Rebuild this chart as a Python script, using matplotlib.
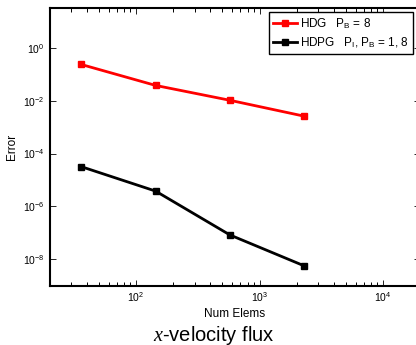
import numpy as np
import matplotlib
matplotlib.use('Agg')
import matplotlib.pyplot as plt
from matplotlib.ticker import NullFormatter, NullLocator

plt.rcParams['font.family'] = ['Liberation Sans', 'DejaVu Sans']
plt.rcParams['mathtext.fontset'] = 'custom'
plt.rcParams['mathtext.rm'] = 'Liberation Sans'
plt.rcParams['mathtext.it'] = 'Liberation Serif:italic'

# data
num_elems = [36, 144, 576, 2304]
err_hdg = [0.236, 0.038, 0.0104, 0.0026]
err_hdpg = [3.2e-5, 3.8e-6, 8.3e-8, 5.6e-9]
labels = ['HDG   P$_\\mathrm{B}$ = 8', 'HDPG   P$_\\mathrm{I}$, P$_\\mathrm{B}$ = 1, 8']

fig = plt.figure(figsize=[4.16, 3.45], dpi=100)
ax = fig.add_axes([0.1195, 0.172, 0.8906, 0.804])

ax.loglog(num_elems, err_hdg, '-s', color='red', lw=2, ms=5, label=labels[0])
ax.loglog(num_elems, err_hdpg, '-s', color='black', lw=2, ms=5, label=labels[1])

ax.set_xlim(20, 2e4)
ax.set_ylim(1e-9, 10**1.5)
ax.set_yticks([1e-8, 1e-6, 1e-4, 1e-2, 1e0])
ax.yaxis.set_minor_locator(NullLocator())
ax.set_xticks([1e2, 1e3, 1e4])
minor_x = [k * 10.0**e for e in range(1, 5) for k in range(2, 10)]
minor_x = [v for v in minor_x if 20 <= v <= 2e4]
ax.set_xticks(minor_x, minor=True)
ax.xaxis.set_minor_formatter(NullFormatter())

ax.tick_params(which='both', direction='in', top=True, right=True, labelsize=7.5)
ax.tick_params(which='major', length=4, width=0.6)
ax.tick_params(which='minor', length=3, width=0.7)
for s in ax.spines.values():
    s.set_linewidth(1.5)

ax.set_xlabel('Num Elems', fontsize=8.5, labelpad=3)
ax.set_ylabel('Error', fontsize=8.5, labelpad=4)

leg = ax.legend(loc='upper right', bbox_to_anchor=(0.981, 0.987), fontsize=8.5,
                fancybox=False, framealpha=1, edgecolor='black',
                handlelength=2.0, handletextpad=0.25, borderpad=0.35, labelspacing=0.35,
                borderaxespad=0.0)
leg.get_frame().set_linewidth(1.0)

fig.text(0.513, 0.013, '$x$-velocity flux', fontsize=14.5, ha='center', va='baseline')

fig.savefig('out.png', dpi=100)
